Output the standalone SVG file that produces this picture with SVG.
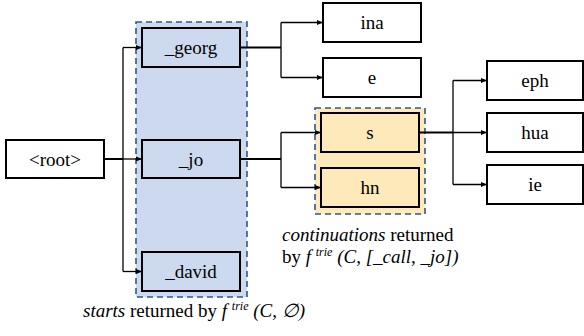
<svg xmlns="http://www.w3.org/2000/svg" width="584" height="336" viewBox="0 0 584 336">
  <style>
    .node rect { fill: #ffffff; stroke: #000000; stroke-width: 2; }
    .start rect { fill: #cdd9ef; }
    .cont rect { fill: #fde9b9; }
    .label { font-size: 19px; text-anchor: middle; fill: #000000; }
    .region { stroke: #2f5597; stroke-width: 1.6; stroke-dasharray: 6 4; }
    .trunk { fill: none; stroke: #000000; stroke-width: 2; }
    .branch { fill: none; stroke: #000000; stroke-width: 1.3; }
    .arrow { marker-end: url(#head); }
    .caption { font-size: 19px; fill: #000000; }
    .it { font-style: italic; }
    .sup { font-style: italic; font-size: 12px; }
  </style>
  <defs>
    <marker id="head" markerUnits="userSpaceOnUse" markerWidth="7" markerHeight="6" refX="6" refY="3" orient="auto">
      <path d="M0,0.5 L6,3 L0,5.5 Z" fill="#000000"/>
    </marker>
  </defs>

  <!-- highlighted groups -->
  <rect id="starts-region" class="region" x="136" y="22" width="111" height="275" fill="#cdd9ef"/>
  <rect id="continuations-region" class="region" x="315" y="108" width="110" height="106" fill="#fde9b9"/>

  <!-- connectors -->
  <g id="connectors">
    <path class="trunk" d="M104,159 H123"/>
    <path class="branch" d="M123,47.5 V271.5"/>
    <path class="branch arrow" d="M123,47.5 H142"/>
    <path class="branch arrow" d="M123,159 H142"/>
    <path class="branch arrow" d="M123,271.5 H142"/>

    <path class="trunk" d="M240,47.5 H281"/>
    <path class="branch" d="M281,22.5 V77.5"/>
    <path class="branch arrow" d="M281,22.5 H323"/>
    <path class="branch arrow" d="M281,77.5 H323"/>

    <path class="trunk" d="M240,159 H281"/>
    <path class="branch" d="M281,132.5 V187.5"/>
    <path class="branch arrow" d="M281,132.5 H321"/>
    <path class="branch arrow" d="M281,187.5 H321"/>

    <path class="trunk" d="M419,132.5 H453"/>
    <path class="branch" d="M453,80.5 V184.5"/>
    <path class="branch arrow" d="M453,80.5 H487"/>
    <path class="branch arrow" d="M453,132.5 H487"/>
    <path class="branch arrow" d="M453,184.5 H487"/>
  </g>

  <!-- all text shares one serif face -->
  <g font-family="Liberation Serif, Times New Roman, DejaVu Serif, serif">
    <!-- nodes -->
    <g id="root" class="node">
      <rect x="6" y="140" width="98" height="38"/>
      <text class="label" x="55" y="165.5">&lt;root&gt;</text>
    </g>
    <g id="georg" class="node start">
      <rect x="142" y="28" width="98" height="39"/>
      <text class="label" x="191" y="54">_georg</text>
    </g>
    <g id="jo" class="node start">
      <rect x="142" y="140" width="98" height="38"/>
      <text class="label" x="191" y="165.5">_jo</text>
    </g>
    <g id="david" class="node start">
      <rect x="142" y="252" width="98" height="39"/>
      <text class="label" x="191" y="278">_david</text>
    </g>
    <g id="ina" class="node">
      <rect x="323" y="3" width="98" height="39"/>
      <text class="label" x="372" y="29">ina</text>
    </g>
    <g id="e" class="node">
      <rect x="323" y="58" width="98" height="39"/>
      <text class="label" x="372" y="84">e</text>
    </g>
    <g id="s" class="node cont">
      <rect x="321" y="113" width="98" height="39"/>
      <text class="label" x="370" y="139">s</text>
    </g>
    <g id="hn" class="node cont">
      <rect x="321" y="168" width="98" height="39"/>
      <text class="label" x="370" y="194">hn</text>
    </g>
    <g id="eph" class="node">
      <rect x="487" y="61" width="96" height="39"/>
      <text class="label" x="535" y="87">eph</text>
    </g>
    <g id="hua" class="node">
      <rect x="487" y="113" width="96" height="39"/>
      <text class="label" x="535" y="139">hua</text>
    </g>
    <g id="ie" class="node">
      <rect x="487" y="165" width="96" height="39"/>
      <text class="label" x="535" y="191">ie</text>
    </g>

    <!-- captions -->
    <text class="caption" x="282" y="241"><tspan class="it">continuations</tspan> returned</text>
    <text class="caption" x="282" y="263">by <tspan class="it">f</tspan> <tspan class="sup" dy="-7">trie</tspan><tspan class="it" dy="7"> (C, [_call, _jo])</tspan></text>
    <text class="caption" x="83" y="317"><tspan class="it">starts</tspan> returned by <tspan class="it">f</tspan> <tspan class="sup" dy="-7">trie</tspan><tspan class="it" dy="7"> (C, ∅)</tspan></text>
  </g>
</svg>
